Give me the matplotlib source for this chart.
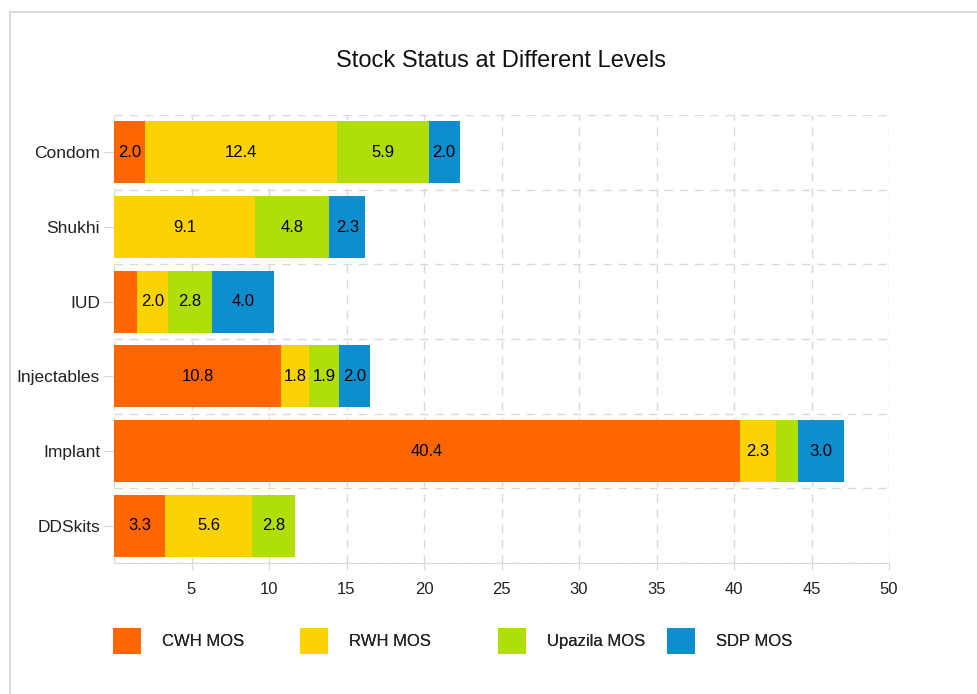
import numpy as np
import matplotlib.pyplot as plt
from matplotlib.lines import Line2D
from matplotlib.patches import Patch

plt.rcParams['font.family'] = ['Liberation Sans', 'DejaVu Sans']

# данные графика
products = ['Condom', 'Shukhi', 'IUD', 'Injectables', 'Implant', 'DDSkits']
cwh_mos = [2.0, 0.0, 1.5, 10.8, 40.4, 3.3]
rwh_mos = [12.4, 9.1, 2.0, 1.8, 2.3, 5.6]
upazila_mos = [5.9, 4.8, 2.8, 1.9, 1.4, 2.8]
sdp_mos = [2.0, 2.3, 4.0, 2.0, 3.0, 0.0]
series_names = ['CWH MOS', 'RWH MOS', 'Upazila MOS', 'SDP MOS']
colors = ['#FF6600', '#FCD202', '#B0DE09', '#0D8ECF']
x_ticks = [5, 10, 15, 20, 25, 30, 35, 40, 45, 50]

# положения элементов легенды (пиксели)
legend_x = [113, 300, 498, 667]


def main():
    fig = plt.figure(figsize=(9.77, 6.94), dpi=100)
    ax = fig.add_axes([114 / 977, 1 - 563 / 694, 775 / 977, 448 / 694])

    # рамка вокруг графика
    fig.add_artist(Line2D([10 / 977, 10 / 977], [0, 1 - 12 / 694], color='#d4d4d4', lw=1.2))
    fig.add_artist(Line2D([10 / 977, 1], [1 - 12 / 694, 1 - 12 / 694], color='#d4d4d4', lw=1.2))

    y = np.arange(len(products))
    left = np.zeros(len(products))
    for vals, name, col in zip([cwh_mos, rwh_mos, upazila_mos, sdp_mos], series_names, colors):
        vals = np.array(vals)
        ax.barh(y, vals, left=left, height=0.83, color=col, label=name, zorder=3)
        for yi, l, v in zip(y, left, vals):
            # подпись только если помещается
            if v >= 1.6:
                ax.text(l + v / 2, yi, f'{v:.1f}', ha='center', va='center',
                        fontsize=12, color='#000000', zorder=4)
        left += vals

    ax.set_xlim(0, 50)
    ax.set_ylim(len(products) - 0.5, -0.5)
    ax.set_yticks(y)
    ax.set_yticklabels(products)
    ax.set_xticks(x_ticks)
    ax.set_yticks(np.arange(len(products) + 1) - 0.5, minor=True)

    ax.grid(axis='x', which='major', color='#d9d9d9', linestyle=(0, (6, 5)), lw=1, zorder=0)
    ax.grid(axis='y', which='minor', color='#d9d9d9', linestyle=(0, (6, 5)), lw=1, zorder=0)
    ax.axvline(0, color='#d9d9d9', linestyle=(0, (6, 5)), lw=1, zorder=0)

    for s in ['top', 'right', 'left']:
        ax.spines[s].set_visible(False)
    ax.spines['bottom'].set_color('#d9d9d9')

    ax.tick_params(axis='x', which='major', length=5, color='#d9d9d9', labelsize=12,
                   labelcolor='#222222', pad=9)
    ax.tick_params(axis='y', which='major', length=8, color='#d9d9d9', labelsize=12.5,
                   labelcolor='#222222', pad=2)
    ax.tick_params(axis='y', which='minor', length=0)

    fig.text(501 / 977, 1 - 61 / 694, 'Stock Status at Different Levels', ha='center', va='center',
             fontsize=17, color='#111111')

    # легенда: каждый элемент отдельно
    for lx, name, col in zip(legend_x, series_names, colors):
        leg = fig.legend(handles=[Patch(facecolor=col, edgecolor='none', label=name)],
                         loc='center left', bbox_to_anchor=(lx / 977, 1 - 641 / 694),
                         frameon=False, fontsize=12, handlelength=1.65, handleheight=2.1,
                         handletextpad=1.3, borderpad=0, borderaxespad=0, labelcolor='#222222')
        fig.add_artist(leg)

    fig.savefig('out.png', dpi=100, facecolor='white')


if __name__ == '__main__':
    main()
